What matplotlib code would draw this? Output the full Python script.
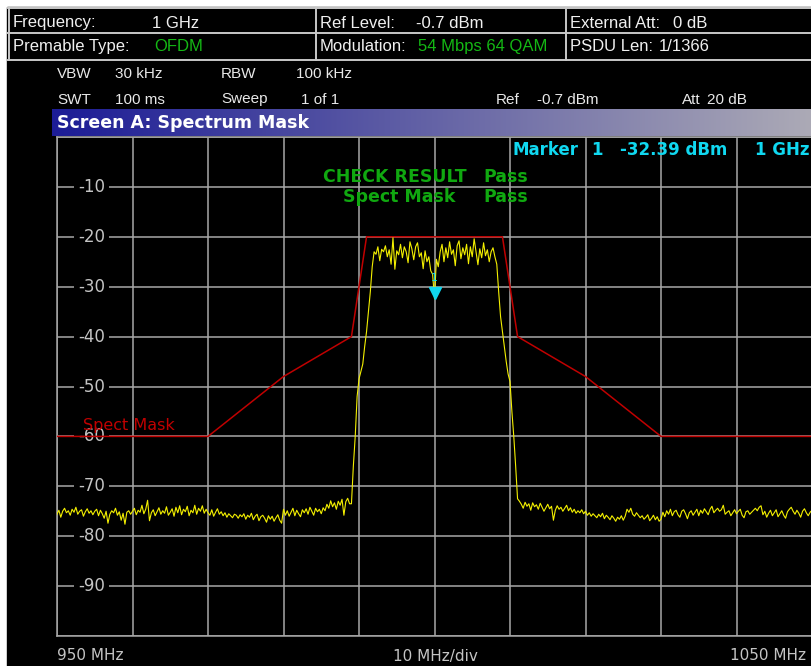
import matplotlib
matplotlib.use('Agg')
import matplotlib.pyplot as plt
import numpy as np

# --- data ---
# trace (dBm), one value every 0.25 MHz from 950 to 1050 MHz
noise_left = [
    -75.6, -74.8, -76.2, -75.0, -74.4, -75.3, -74.9, -75.8, -74.6, -75.2, -74.2, -75.6, -75.0, -74.7, -76.0, -75.1, -74.5, -75.4, -74.9, -75.7,
    -75.0, -74.6, -75.9, -74.8, -75.5, -76.4, -75.0, -77.4, -75.6, -74.9, -75.3, -74.4, -75.8, -75.1, -76.8, -75.4, -77.6, -75.2, -74.9, -75.6,
    -75.0, -74.4, -75.7, -74.8, -75.2, -73.8, -75.5, -74.6, -72.8, -76.9, -75.3, -74.7, -75.9, -75.1, -74.3, -75.6, -74.9, -75.4, -74.1, -75.8,
    -75.2, -74.5, -76.0, -74.2, -75.3, -73.9, -75.7, -74.6, -75.1, -74.0, -75.9, -74.8, -75.3, -73.8, -75.6, -74.4, -75.0, -73.9, -75.4, -74.6,
    -75.3, -75.8, -74.7, -76.0, -75.2, -74.5, -75.6, -75.1, -75.9, -75.3, -76.2, -75.5, -75.9, -76.3, -75.6, -75.8, -76.4, -75.7, -76.1, -75.5,
    -76.6, -75.8, -76.2, -75.4, -76.7, -76.0, -75.6, -76.9, -76.1, -75.8, -76.4, -77.2, -75.9, -76.6, -76.0, -77.0, -76.3, -75.7, -76.8, -77.4,
    -74.6, -75.8, -74.9, -76.0, -75.2, -74.4, -75.9, -74.8, -75.5, -76.1, -74.7, -75.3, -74.5, -75.6, -74.2, -75.0, -75.8, -74.4, -75.1, -74.6,
    -75.5, -74.3, -74.9, -73.6, -74.4, -72.9, -74.1, -73.3, -74.6, -73.0, -73.8, -72.6, -75.8, -73.1, -72.4, -73.5,
]
rise_left = [-73.5, -66.0, -60.0, -52.0, -48.5, -47.0, -45.5, -42.0, -39.0, -35.0, -31.0, -26.0, -23.0]
plateau_left = [
    -23.5, -22.0, -24.8, -22.5, -23.0, -21.8, -24.0, -22.6, -25.5, -20.2, -26.5, -22.8, -23.6, -21.5, -24.2, -22.0,
    -23.0, -25.2, -21.0, -22.4, -24.6, -22.0, -21.2, -24.0, -23.2, -26.4, -22.8, -25.0, -24.0, -26.8, -27.5,
]
center_level = [-32.4]
plateau_right = [
    -24.5, -26.0, -23.0, -21.5, -25.0, -22.2, -24.2, -21.0, -23.5, -22.6, -25.8, -21.8, -20.8, -24.4, -22.2, -23.6,
    -21.5, -25.4, -22.0, -24.0, -20.4, -23.0, -25.6, -22.4, -24.2, -21.2, -23.8, -22.6, -25.0, -23.0, -22.2, -24.0,
]
fall_right = [-25.5, -31.0, -36.0, -39.0, -42.0, -45.0, -47.5, -49.0, -55.0, -60.0, -66.0, -72.5, -73.0]
noise_right = [
    -73.6, -74.4, -73.2, -74.0, -73.5, -74.8, -73.3, -74.1, -73.7, -74.6, -73.4, -74.2, -75.0, -74.3,
    -73.6, -74.5, -74.0, -76.8, -74.8, -73.9, -74.6, -74.2, -75.0, -74.4, -73.8, -74.9, -74.3, -75.2, -74.6, -75.4, -74.9, -75.3, -74.7, -75.5,
    -75.0, -75.8, -75.3, -76.0, -75.5, -75.9, -76.3, -75.6, -76.1, -75.4, -76.5, -75.8, -76.2, -76.7, -75.9, -76.4, -77.0, -76.2, -76.6, -75.9,
    -76.8, -76.0, -74.6, -75.2, -74.4, -75.6, -76.0, -75.3, -75.8, -76.3, -75.9, -76.6, -76.2, -75.7, -76.9, -76.4, -75.8, -76.7, -76.1, -77.0,
    -76.6, -75.2, -76.1, -74.9, -75.6, -74.6, -75.9, -75.1, -74.8, -75.7, -76.2, -75.0, -74.7, -75.5, -76.5, -75.3, -74.9, -75.8, -75.2, -74.6,
    -75.9, -74.8, -75.4, -74.5, -75.1, -75.7, -74.6, -74.0, -75.3, -74.8, -74.4, -75.0, -74.7, -73.8, -75.6, -75.2, -74.9, -75.9, -75.3, -74.7,
    -75.5, -75.0, -74.6, -75.8, -76.3, -75.1, -74.9, -75.6, -75.2, -74.8, -74.4, -74.9, -74.2, -73.9, -75.7, -75.0, -76.2, -75.4, -74.8, -75.9,
    -75.3, -74.7, -76.1, -75.5, -74.9, -75.8, -76.4, -75.1, -74.6, -74.2, -75.0, -75.6, -74.8, -75.4, -76.2, -75.0, -74.5, -75.3, -75.9, -75.2,
    -74.8,
]

# spectrum mask (802.11a, relative to -20 dBm)
mask_freq = [950, 970, 980, 989, 991, 1009, 1011, 1020, 1030, 1050]
mask_level = [-60, -60, -48, -40, -20, -20, -40, -48, -60, -60]

marker_freq = 1000
marker_level = -32.39

y_ticks = [-10, -20, -30, -40, -50, -60, -70, -80, -90]

level = np.array(noise_left + rise_left + plateau_left + center_level
                 + plateau_right + fall_right + noise_right)
freq = np.linspace(950, 1050, len(level))

W, H = 812, 666
fig = plt.figure(figsize=(W / 100, H / 100), dpi=100, facecolor='white')

# background / frame drawn in pixel coordinates
bg = fig.add_axes([0, 0, 1, 1])
bg.set_xlim(0, W)
bg.set_ylim(H, 0)
bg.axis('off')
bg.add_patch(plt.Rectangle((7, 7), W - 7, H - 7, color='black'))

# header cells
hc = '#c8c8c8'
for y in [7.5, 33, 60]:
    bg.plot([8, W], [y, y], color=hc, lw=1.4)
for x in [9, 316, 566]:
    bg.plot([x, x], [7.5, 60], color=hc, lw=1.4)

hfont = dict(family='Liberation Sans', fontsize=12, va='baseline', color='#f0f0f0')
green = '#14b814'
bg.text(13, 27.5, 'Frequency:', **hfont)
bg.text(152, 27.5, '1 GHz', **hfont)
bg.text(320, 27.5, 'Ref Level:', **hfont)
bg.text(416, 27.5, '-0.7 dBm', **hfont)
bg.text(570, 27.5, 'External Att:', **hfont)
bg.text(673, 27.5, '0 dB', **hfont)
bg.text(13, 51, 'Premable Type:', **hfont)
bg.text(154, 51, 'OFDM', **{**hfont, 'color': green})
bg.text(320, 51, 'Modulation:', **hfont)
bg.text(418, 51, '54 Mbps 64 QAM', **{**hfont, 'color': green})
bg.text(570, 51, 'PSDU Len:', **hfont)
bg.text(659, 51, '1/1366', **hfont)

# settings lines
sfont = dict(family='Liberation Sans', fontsize=11, va='baseline', color='#e8e8e8')
bg.text(57, 78.5, 'VBW', **sfont)
bg.text(115, 78.5, '30 kHz', **sfont)
bg.text(221, 78.5, 'RBW', **sfont)
bg.text(296, 78.5, '100 kHz', **sfont)
bg.text(57, 103.5, 'SWT', **sfont)
bg.text(115, 103.5, '100 ms', **sfont)
bg.text(221, 103.5, 'Sweep', **sfont)
bg.text(301, 103.5, '1 of 1', **sfont)
bg.text(496, 103.5, 'Ref', **sfont)
bg.text(537, 103.5, '-0.7 dBm', **sfont)
bg.text(682, 103.5, 'Att', **sfont)
bg.text(707, 103.5, '20 dB', **sfont)

# title bar with gradient
c0 = np.array([28, 28, 150]) / 255
c1 = np.array([172, 170, 182]) / 255
t = np.linspace(0, 1, 256)[:, None]
grad = (c0 + (c1 - c0) * t)[None, :, :]
bg.imshow(grad, extent=[52, W, 136.5, 109.5], aspect='auto', zorder=2)
bg.text(57, 123, 'Screen A: Spectrum Mask', family='DejaVu Sans', fontweight='bold',
        fontsize=12.5, color='white', va='center', zorder=3)

# bottom labels
bfont = dict(family='DejaVu Sans', fontsize=11, va='center', color='#c4c4c4')
bg.text(57, 656, '950 MHz', **bfont)
bg.text(435, 656, '10 MHz/div', ha='center', **bfont)
bg.text(806, 656, '1050 MHz', ha='right', **bfont)

# --- plot area ---
ax = fig.add_axes([57 / W, 30 / H, 755 / W, 499 / H])
ax.set_facecolor('black')
ax.set_xlim(950, 1050)
ax.set_ylim(-100, 0)
ax.set_xticks(np.arange(950, 1051, 10))
ax.set_yticks(np.arange(-100, 1, 10))
ax.tick_params(length=0, labelleft=False, labelbottom=False)
ax.grid(True, color='#a8a8a8', lw=1.1)
for s in ax.spines.values():
    s.set_color('#a8a8a8')
    s.set_linewidth(1.1)
ax.spines['right'].set_visible(False)

for v in y_ticks:
    ax.text(954.6, v, str(v), ha='center', va='center', color='#c4c4c4',
            family='DejaVu Sans', fontsize=12, zorder=2,
            bbox=dict(boxstyle='square,pad=0.25', fc='black', ec='none'))

ax.plot(mask_freq, mask_level, color='#c00000', lw=1.1, zorder=3)
ax.plot(freq, level, color='#f4f000', lw=0.8, zorder=4)

# texts placed in screen pixels
px = bg.transData
ax.text(83, 430, 'Spect Mask', transform=px, va='baseline', color='#c00000',
        family='DejaVu Sans', fontsize=11.5, zorder=5)

# marker
cyan = '#10d8f0'
ax.plot([marker_freq], [marker_level + 1.2], marker='v', ms=9, color=cyan, zorder=6)
ax.text(marker_freq, marker_level + 4.2, '1', ha='center', va='center', color=cyan,
        family='DejaVu Sans', fontsize=8, zorder=6)

mfont = dict(family='DejaVu Sans', fontweight='bold', fontsize=12, va='baseline',
             color=cyan, zorder=6, transform=px)
ax.text(512, 155, 'Marker', **mfont)
ax.text(591, 155, '1', **mfont)
ax.text(620, 155, '-32.39 dBm', **mfont)
ax.text(810, 155, '1 GHz', ha='right', **mfont)

gfont = dict(family='DejaVu Sans', fontweight='bold', fontsize=12.5, va='baseline',
             color='#10a810', zorder=6, transform=px)
ax.text(323, 181.5, 'CHECK RESULT', **gfont)
ax.text(483, 181.5, 'Pass', **gfont)
ax.text(343, 201.5, 'Spect Mask', **gfont)
ax.text(483, 201.5, 'Pass', **gfont)

plt.savefig('out.png', dpi=100, facecolor='white')
